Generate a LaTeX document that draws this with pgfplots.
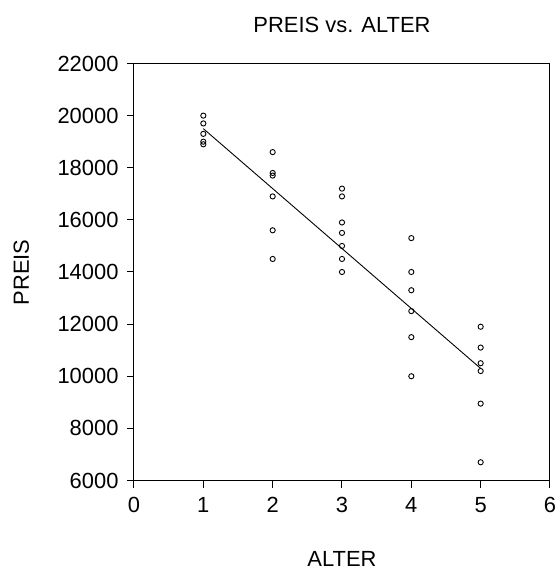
\documentclass[border=0pt]{standalone}
\usepackage{fontspec}
\setmainfont{Liberation Sans}
\usepackage{pgfplots}
\pgfplotsset{compat=1.18}
\begin{document}
\fontsize{22}{26}\selectfont
\begin{tikzpicture}
\useasboundingbox (-134bp,-91.5bp) rectangle (423bp,480.5bp);
\begin{axis}[
  at={(0,0)}, anchor=south west,
  scale only axis, width=416bp, height=417bp,
  xmin=0, xmax=6, ymin=6000, ymax=22000,
  xtick={0,1,2,3,4,5,6},
  ytick={6000,8000,10000,12000,14000,16000,18000,20000,22000},
  xtick pos=left, ytick pos=left,
  tick align=outside, major tick length=7bp,
  axis line style={line width=1bp},
  every tick/.style={black, line width=1bp},
  /pgf/number format/assume math mode=true,
  /pgf/number format/1000 sep={},
  scaled y ticks=false,
  ticklabel style={font=\fontsize{22}{26}\selectfont},
  xticklabel style={yshift=-2bp},
  yticklabel style={xshift=-1bp},
  clip=false,
]
\addplot[only marks, mark=o, mark size=2.6bp, mark options={line width=0.9bp, black}] coordinates {
(1,20000) (1,19700) (1,19300) (1,19000) (1,18900)
(2,18600) (2,17800) (2,17700) (2,16900) (2,15600) (2,14500)
(3,17200) (3,16900) (3,15900) (3,15500) (3,15000) (3,14500) (3,14000)
(4,15300) (4,14000) (4,13300) (4,12500) (4,11500) (4,10000)
(5,11900) (5,11100) (5,10500) (5,10200) (5,8950) (5,6700)
};
\addplot[black, line width=0.9bp, no marks] coordinates {(1,19500) (5,10300)};
\end{axis}
\node[anchor=base, inner sep=0] at (208bp,447.6bp) {PREIS vs. ALTER};
\node[anchor=base, inner sep=0] at (208bp,-86bp) {ALTER};
\node[anchor=base, rotate=90, inner sep=0] at (-105bp,208bp) {PREIS};
\end{tikzpicture}
\end{document}
